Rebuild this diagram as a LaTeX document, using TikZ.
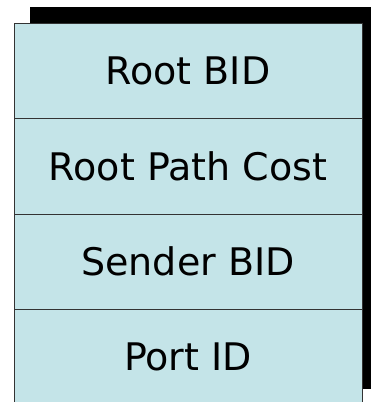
\documentclass[tikz,border=0pt]{standalone}
\usepackage{fontspec}
\setmainfont{DejaVu Sans}
\usetikzlibrary{positioning,backgrounds}
\definecolor{fieldblue}{RGB}{196,228,232}
\tikzset{field/.style={draw=black!80,line width=0.9pt,fill=fieldblue,
    minimum width=348pt,minimum height=95.5pt,inner sep=0pt,outer sep=0pt,
    font=\fontsize{38}{44}\selectfont}}

\begin{document}
\begin{tikzpicture}[x=1pt,y=1pt]
    \useasboundingbox (0,0) rectangle (370,402);

    \node[field](root)at(188,331.25){Root BID};
    \node[field,below=0pt of root](cost){Root Path Cost};
    \node[field,below=0pt of cost](sender){Sender BID};
    \node[field,below=0pt of sender](port){Port ID};

    \begin{scope}[on background layer]
      \fill[black] ([shift={(16,16)}]root.north west) rectangle ([shift={(16,16)}]port.south east);
    \end{scope}
  \end{tikzpicture}
\end{document}
